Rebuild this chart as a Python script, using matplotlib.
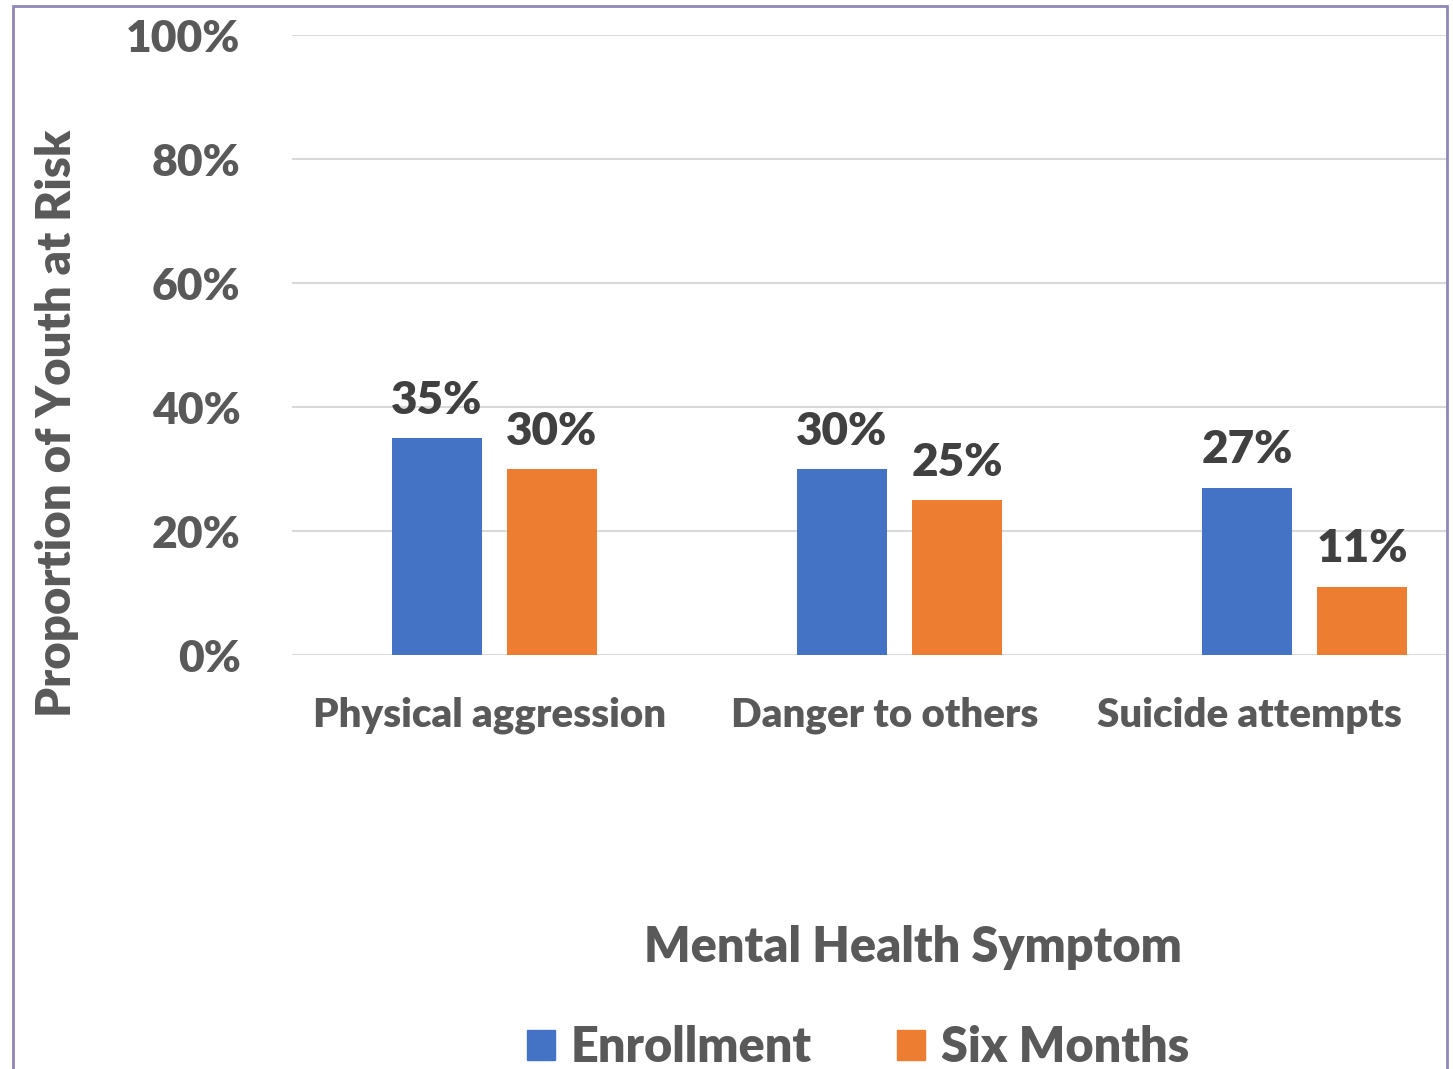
import matplotlib.pyplot as plt
import matplotlib.patches as mpatches
import numpy as np

categories = ["Physical aggression", "Danger to others", "Suicide attempts"]
enrollment = [35, 30, 27]
six_months = [30, 25, 11]
series_names = ["Enrollment", "Six Months"]
yticks = [0, 20, 40, 60, 80, 100]

blue = "#4472c4"
orange = "#ed7d31"
grey = "#595959"
dark = "#404040"
wt = "heavy"

plt.rcParams["font.family"] = ["Lato", "DejaVu Sans"]
plt.rcParams["font.weight"] = wt

W, H = 1453, 1069
fig = plt.figure(figsize=(W / 100, H / 100), dpi=100)

# axes box in pixels: left 292, right 1447, top 35 (100%), bottom 655 (0%)
ax = fig.add_axes([292 / W, 1 - 655 / H, (1447 - 292) / W, (655 - 35) / H])
cat_px = 405.0
x = np.arange(len(categories))
width = 90 / cat_px
off = 57.5 / cat_px

b1 = ax.bar(x - off, enrollment, width, color=blue, label=series_names[0], zorder=3)
b2 = ax.bar(x + off, six_months, width, color=orange, label=series_names[1], zorder=3)

for bars, vals in ((b1, enrollment), (b2, six_months)):
    for r, v in zip(bars, vals):
        ax.text(r.get_x() + r.get_width() / 2, v + 2.8, "%d%%" % v,
                ha="center", va="bottom", fontsize=33, fontweight=wt, color=dark)

ax.set_xlim(-0.5, -0.5 + (1447 - 292) / cat_px)
ax.set_ylim(0, 100)
ax.set_yticks(yticks)
ax.set_yticklabels(["%d%%" % t for t in yticks], fontsize=32, fontweight=wt, color=grey)
# excel nudges the category labels left to keep them inside the plot
ax.set_xticks(x + np.array([-0.012, -0.037, -0.136]))
ax.set_xticklabels(categories, fontsize=29, fontweight=wt, color=grey)
ax.tick_params(axis="both", length=0)
ax.tick_params(axis="y", pad=37)
ax.tick_params(axis="x", pad=30)
ax.grid(axis="y", color="#d9d9d9", linewidth=1.5, zorder=0)
for s in ax.spines.values():
    s.set_visible(False)

fig.text(57 / W, 1 - 423 / H, "Proportion of Youth at Risk", rotation=90,
         ha="center", va="center", fontsize=34, fontweight=wt, color=grey)
fig.text(913 / W, 1 - 948 / H, "Mental Health Symptom",
         ha="center", va="center", fontsize=35, fontweight=wt, color=grey)

handles = [mpatches.Patch(color=blue), mpatches.Patch(color=orange)]
fig.legend(handles, series_names, loc="center", bbox_to_anchor=(858 / W, 1 - 1048 / H),
           ncol=2, frameon=False, prop={"size": 35, "weight": wt},
           handlelength=0.58, handleheight=0.58,
           handletextpad=0.33, columnspacing=1.75, labelcolor=grey)

# purple frame around the chart (bottom edge falls outside the image)
fig.patches.append(mpatches.Rectangle((13 / W, -0.05), (1447 - 13) / W, 1.05 - 6 / H,
                                      transform=fig.transFigure, fill=False,
                                      edgecolor="#9187b8", linewidth=2))

fig.savefig("out.png", dpi=100)
